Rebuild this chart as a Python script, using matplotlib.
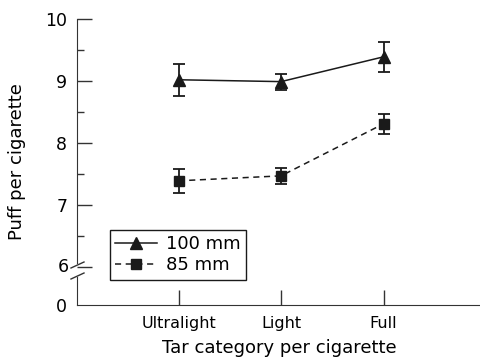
import matplotlib
matplotlib.use("Agg")
import matplotlib.pyplot as plt
from matplotlib.lines import Line2D
import numpy as np

categories = ["Ultralight", "Light", "Full"]
mm100 = [9.02, 8.99, 9.39]
mm100_err = [0.26, 0.13, 0.24]
mm85 = [7.39, 7.47, 8.31]
mm85_err = [0.19, 0.13, 0.16]

plt.rcParams['font.family'] = ['DejaVu Sans']

W, H = 481, 363
fig = plt.figure(figsize=(W / 100, H / 100), dpi=100)

def fx(px):
    return px / W

def fy(py):
    return 1 - py / H

left = fx(77)
width = fx(481) - left
ax = fig.add_axes([left, fy(267), width, fy(19) - fy(267)])
axb = fig.add_axes([left, fy(305), width, fy(277) - fy(305)])

x = np.arange(len(categories))
xlim = (-0.99, 2.95)
col = '#1a1a1a'
dash = (0, (4, 3))

ax.errorbar(x, mm100, yerr=mm100_err, color=col, lw=1.1, marker='^', ms=9,
            capsize=4, elinewidth=1.3, capthick=1.3)
ax.errorbar(x, mm85, yerr=mm85_err, color=col, lw=1.1, ls=dash, marker='s', ms=7.5,
            capsize=4, elinewidth=1.3, capthick=1.3)

for a in (ax, axb):
    a.set_xlim(*xlim)
    a.spines['top'].set_visible(False)
    a.spines['right'].set_visible(False)
    a.spines['left'].set_color('#333333')
    a.spines['bottom'].set_color('#333333')
    a.patch.set_alpha(0)

ax.set_ylim(6, 10)
ax.spines['bottom'].set_visible(False)
ax.spines['left'].set_bounds(6.07, 10)
ax.set_yticks([6, 7, 8, 9, 10])
ax.set_yticks([6.5, 7.5, 8.5, 9.5], minor=True)
ax.set_yticklabels(["", "7", "8", "9", "10"])
ax.tick_params(axis='y', which='major', direction='in', length=11, width=1, pad=7,
               labelsize=12.5, color='#333333')
ax.tick_params(axis='y', which='minor', direction='in', length=5, width=1, color='#333333')
ax.set_xticks([])

axb.set_ylim(0, 1)
axb.set_yticks([0])
axb.set_yticklabels(["0"])
axb.spines['left'].set_bounds(0, 1)
axb.tick_params(axis='y', direction='in', length=0, pad=7, labelsize=12.5)
axb.set_xticks(x)
axb.set_xticklabels(categories)
axb.tick_params(axis='x', direction='in', length=11, width=1, pad=8, labelsize=11.5, color='#333333')
axb.set_xlabel("Tar category per cigarette", fontsize=13, labelpad=6)

# axis break marks and the "6" label
fig.text(fx(69), fy(267), "6", fontsize=12.5, ha='right', va='center')
for yb in (265, 276):
    fig.add_artist(Line2D([fx(71), fx(84)], [fy(yb + 3), fy(yb - 3)], color='#333333', lw=1))

fig.text(fx(17), fy(162), "Puff per cigarette", rotation=90, fontsize=13, ha='center', va='center')

handles = [Line2D([], [], color=col, lw=1.1, marker='^', ms=9),
           Line2D([], [], color=col, lw=1.1, ls=dash, marker='s', ms=7.5)]
leg = ax.legend(handles=handles, labels=["100 mm", "85 mm"], loc='upper left',
                bbox_to_anchor=(fx(110), fy(230)),
                bbox_transform=fig.transFigure, fontsize=13, frameon=True, fancybox=False,
                edgecolor=col, framealpha=1, handlelength=2.3, handletextpad=0.5,
                borderpad=0.3, labelspacing=0.15, borderaxespad=0)
leg.get_frame().set_linewidth(1)

fig.savefig("out.png", dpi=100)
